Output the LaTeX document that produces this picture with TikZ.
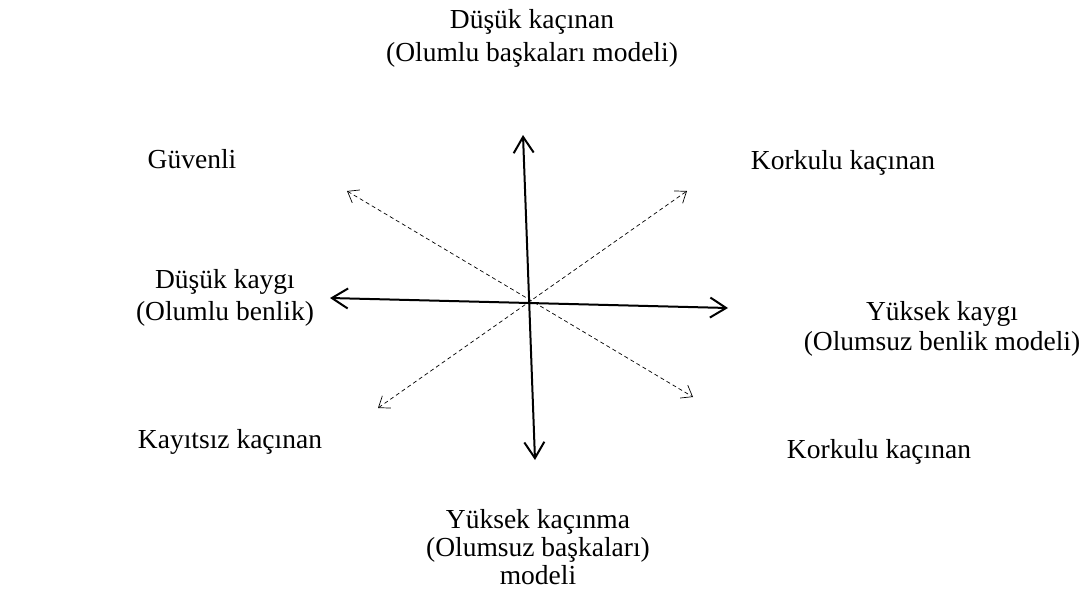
\documentclass[tikz,border=0pt]{standalone}
\usepackage{fontspec}
\setmainfont{Liberation Serif}
\usetikzlibrary{arrows.meta}
\begin{document}
\begin{tikzpicture}[x=1pt,y=-1pt,
  lbl/.style={font=\fontsize{27.5}{32}\selectfont, align=center, anchor=base, inner sep=0pt},
  axisarrow/.style={line width=2pt, {Straight Barb[length=16pt,width=20pt]}-{Straight Barb[length=16pt,width=20pt]}},
  diagarrow/.style={line width=0.7pt, dash pattern=on 4pt off 3pt, {Straight Barb[length=10pt,width=15pt]}-{Straight Barb[length=10pt,width=15pt]}}]
\useasboundingbox (0,0) rectangle (1081,597);
% arrow end points
\coordinate (up) at (523,135);
\coordinate (down) at (535,460);
\coordinate (left) at (330,298);
\coordinate (right) at (728,308);
\coordinate (ul) at (347,191);
\coordinate (lr) at (693,397);
\coordinate (ur) at (687,191);
\coordinate (ll) at (378,408);
% labels (anchor = baseline of the last line)
\node[lbl, font=\fontsize{27.5}{33}\selectfont] (top) at (532,61) {Düşük kaçınan\\(Olumlu başkaları modeli)};
\node[lbl] (guv) at (192,168) {Güvenli};
\node[lbl] (kork1) at (843,169) {Korkulu kaçınan};
\node[lbl] (dkay) at (225,320) {Düşük kaygı\\(Olumlu benlik)};
\node[lbl, font=\fontsize{27.5}{30}\selectfont] (ykay) at (942,350) {Yüksek kaygı\\(Olumsuz benlik modeli)};
\node[lbl] (kay) at (230,448) {Kayıtsız kaçınan};
\node[lbl] (kork2) at (879,458) {Korkulu kaçınan};
\node[lbl, font=\fontsize{27.5}{28}\selectfont] (ykac) at (538,584) {Yüksek kaçınma\\(Olumsuz başkaları)\\modeli};
% arrows
\draw[axisarrow] (down) -- (up);
\draw[axisarrow] (left) -- (right);
\draw[diagarrow] (ul) -- (lr);
\draw[diagarrow] (ll) -- (ur);
\end{tikzpicture}
\end{document}
